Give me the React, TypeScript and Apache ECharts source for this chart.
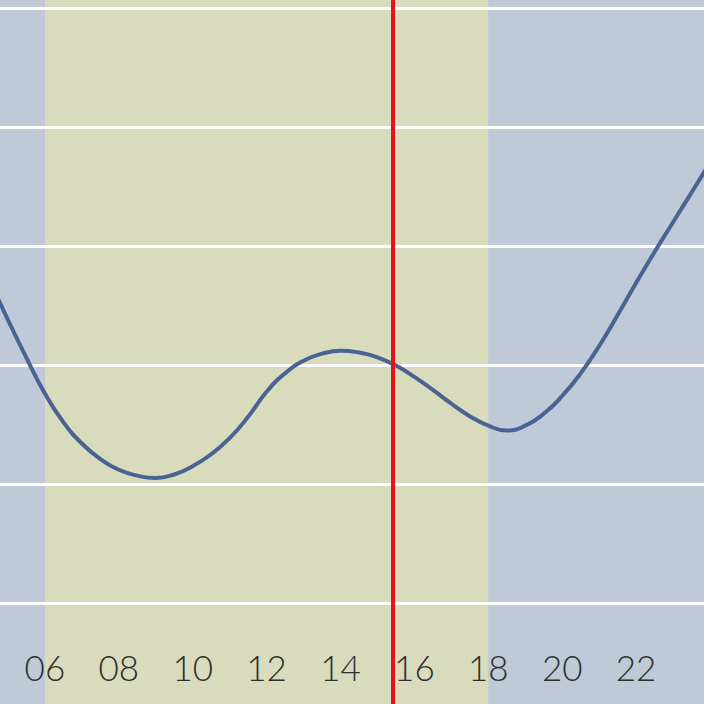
import React, { useEffect, useRef } from "react";
import * as echarts from "echarts";

// hour of day (x) and level (y) of the smooth curve
const hours = [4, 4.5, 5, 5.5, 6, 6.5, 7, 7.5, 8, 8.5, 9, 9.5, 10, 10.5, 11, 11.5, 12, 12.5, 13, 13.5, 14, 14.5, 15, 15.5, 16, 16.5, 17, 17.5, 18, 18.5, 19, 19.5, 20, 20.5, 21, 21.5, 22, 22.5, 23, 23.5, 24];
const levels = [4.04, 3.71, 3.38, 3.06, 2.76, 2.52, 2.34, 2.21, 2.12, 2.07, 2.05, 2.08, 2.15, 2.25, 2.385, 2.565, 2.775, 2.93, 3.035, 3.095, 3.12, 3.105, 3.065, 2.995, 2.9, 2.79, 2.675, 2.57, 2.49, 2.45, 2.49, 2.59, 2.74, 2.93, 3.16, 3.42, 3.69, 3.95, 4.2, 4.45, 4.7];
// daylight band and current time marker (hours)
const dayBand = [6, 18];
const nowHour = 15.42;
// tick labels on the time axis
const tickHours = [6, 8, 10, 12, 14, 16, 18, 20, 22];
const tickLabels = ["06", "08", "10", "12", "14", "16", "18", "20", "22"];

export default function App() {
  const ref = useRef<HTMLDivElement>(null);
  useEffect(() => {
    if (!ref.current) return;
    const chart = echarts.init(ref.current, undefined, { renderer: "svg" });
    const data = hours.map((h, i) => [h, levels[i]]);
    chart.setOption({
      animation: false,
      backgroundColor: "#c0c9d7",
      grid: { left: 0, right: 0, top: 0, bottom: 0 },
      xAxis: {
        type: "value",
        min: 4,
        max: 24,
        interval: 2,
        z: 5,
        axisLine: { show: false },
        axisTick: { show: false },
        splitLine: { show: false },
        axisLabel: {
          inside: true,
          margin: 55,
          verticalAlign: "middle",
          showMinLabel: false,
          showMaxLabel: false,
          fontSize: 35,
          fontFamily: "Lato",
          fontWeight: 300,
          color: "#2e2e2e",
          formatter: (v: number) => {
            const i = tickHours.indexOf(v);
            return i >= 0 ? tickLabels[i] : "";
          },
        },
      },
      yAxis: {
        type: "value",
        min: 0,
        max: 7,
        interval: 1,
        z: 2,
        axisLine: { show: false },
        axisTick: { show: false },
        axisLabel: { show: false },
        splitLine: { show: true, lineStyle: { color: "#ffffff", width: 3 } },
      },
      series: [
        {
          type: "line",
          z: 1,
          silent: true,
          data,
          showSymbol: false,
          lineStyle: { opacity: 0 },
          markArea: {
            silent: true,
            itemStyle: { color: "#d9dbbd", opacity: 1 },
            data: [[{ xAxis: dayBand[0] }, { xAxis: dayBand[1] }]],
          },
        },
        {
          type: "line",
          z: 3,
          data,
          smooth: 0.5,
          showSymbol: false,
          lineStyle: { color: "#4a6395", width: 4 },
        },
        {
          type: "line",
          z: 4,
          silent: true,
          data,
          showSymbol: false,
          lineStyle: { opacity: 0 },
          markLine: {
            silent: true,
            symbol: "none",
            label: { show: false },
            lineStyle: { color: "#e3121b", width: 4, type: "solid" },
            data: [{ xAxis: nowHour }],
          },
        },
      ],
    });
    return () => chart.dispose();
  }, []);
  return (
    <div style={{ position: "fixed", left: 0, top: 0, width: 704, height: 704, overflow: "hidden" }}>
      <div ref={ref} style={{ width: 739, height: 833, position: "absolute", left: -29, top: -111 }} />
    </div>
  );
}
